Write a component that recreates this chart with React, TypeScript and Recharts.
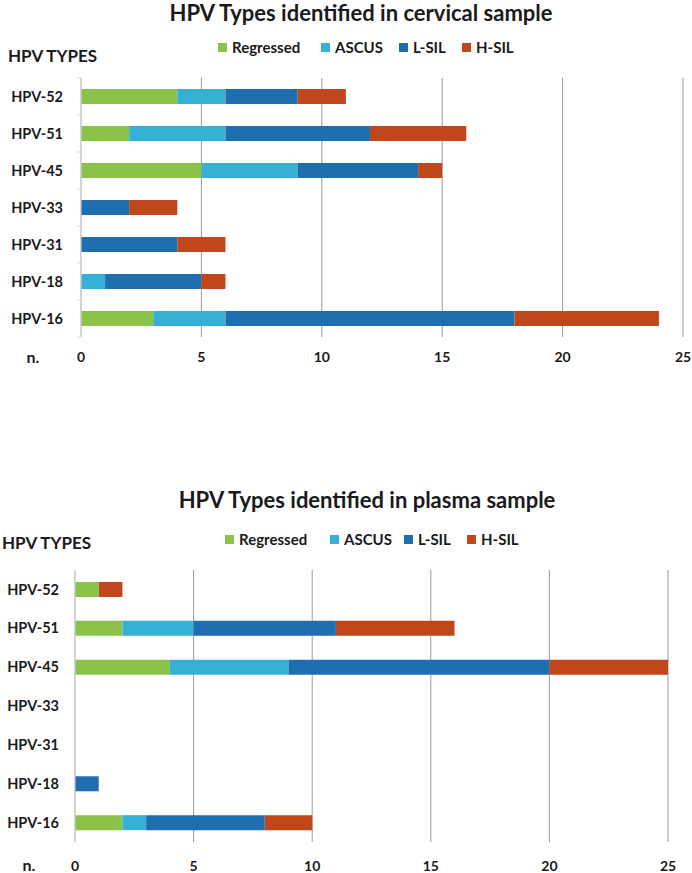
import { BarChart, Bar, XAxis, YAxis, CartesianGrid } from "recharts";

// categories (top to bottom)
const hpvTypes = ["HPV-52", "HPV-51", "HPV-45", "HPV-33", "HPV-31", "HPV-18", "HPV-16"];
const xTicks = [0, 5, 10, 15, 20, 25];

// cervical sample
const cervicalRegressed = [4, 2, 5, 0, 0, 0, 3];
const cervicalAscus = [2, 4, 4, 0, 0, 1, 3];
const cervicalLsil = [3, 6, 5, 2, 4, 4, 12];
const cervicalHsil = [2, 4, 1, 2, 2, 1, 6];

// plasma sample
const plasmaRegressed = [1, 2, 4, 0, 0, 0, 2];
const plasmaAscus = [0, 3, 5, 0, 0, 0, 1];
const plasmaLsil = [0, 6, 11, 0, 0, 1, 5];
const plasmaHsil = [1, 5, 5, 0, 0, 0, 2];

const seriesNames = ["Regressed", "ASCUS", "L-SIL", "H-SIL"];
const seriesColors = ["#8BC34A", "#37B0D6", "#1F6EB0", "#C0461B"];

const FONT = "Lato, 'Open Sans', sans-serif";
const TEXT = "#1a1a1a";

const buildRows = (cols: number[][]) =>
  hpvTypes.map((name, i) => {
    const row: any = { name };
    seriesNames.forEach((s, k) => (row[s] = cols[k][i]));
    return row;
  });

const cervicalData = buildRows([cervicalRegressed, cervicalAscus, cervicalLsil, cervicalHsil]);
const plasmaData = buildRows([plasmaRegressed, plasmaAscus, plasmaLsil, plasmaHsil]);

function Legend({ xs, top }: { xs: number[]; top: number }) {
  return (
    <>
      {seriesNames.map((s, i) => (
        <div
          key={s}
          style={{ position: "absolute", left: xs[i], top: top - 10, height: 20, display: "flex", alignItems: "center", fontFamily: FONT, fontWeight: 700, fontSize: 15, color: TEXT, whiteSpace: "nowrap" }}
        >
          <span style={{ width: 9, height: 9, background: seriesColors[i], marginRight: 5, display: "inline-block" }} />
          <span>{s}</span>
        </div>
      ))}
    </>
  );
}

// y tick with optional small tick marks at band edges (as in the cervical chart)
const makeTick = (band: number, marks: boolean, axisX: number) => (props: any) => {
  const { x, y, payload, index } = props;
  return (
    <g>
      <text x={x} y={y} dy="0.35em" textAnchor="end" fontFamily={FONT} fontWeight={700} fontSize={14.5} fill={TEXT}>
        {payload.value}
      </text>
      {marks && <line x1={axisX - 4} x2={axisX} y1={y + band / 2} y2={y + band / 2} stroke="#d9d9d9" />}
      {marks && index === 0 && <line x1={axisX - 4} x2={axisX} y1={y - band / 2} y2={y - band / 2} stroke="#d9d9d9" />}
    </g>
  );
};

type PanelProps = {
  top: number;
  height: number;
  data: any[];
  title: string;
  titleX: number;
  titleY: number;
  legendXs: number[];
  legendY: number;
  typesX: number;
  typesY: number;
  nX: number;
  nY: number;
  plotTop: number;
  plotBottom: number;
  plotLeft: number;
  plotRight: number;
  labelGap: number;
  tickGap: number;
  marks: boolean;
};

function Panel(p: PanelProps) {
  const axisH = p.height - p.plotBottom;
  const band = (p.plotBottom - p.plotTop) / hpvTypes.length;
  return (
    <div style={{ position: "absolute", left: 0, top: p.top, width: 692, height: p.height }}>
      <div style={{ position: "absolute", left: p.titleX, top: p.titleY, transform: "translate(-50%, -50%)", fontFamily: FONT, fontWeight: 700, fontSize: 22, lineHeight: "22px", color: TEXT, whiteSpace: "nowrap" }}>
        {p.title}
      </div>
      <Legend xs={p.legendXs} top={p.legendY} />
      <div style={{ position: "absolute", left: p.typesX, top: p.typesY - 11, fontFamily: FONT, fontWeight: 700, fontSize: 17, lineHeight: "22px", color: TEXT, whiteSpace: "nowrap" }}>
        HPV TYPES
      </div>
      <div style={{ position: "absolute", left: p.nX, top: p.nY, transform: "translate(-50%, -50%)", fontFamily: FONT, fontWeight: 700, fontSize: 16, lineHeight: "16px", color: TEXT }}>
        n.
      </div>
      <div style={{ position: "absolute", left: 0, top: 0 }}>
        <BarChart
          width={692}
          height={p.height}
          data={p.data}
          layout="vertical"
          margin={{ top: p.plotTop, right: 692 - p.plotRight, bottom: 0, left: 0 }}
        >
          <CartesianGrid horizontal={false} stroke="#9a9a9a" />
          <XAxis
            type="number"
            domain={[0, 25]}
            ticks={xTicks}
            height={axisH}
            axisLine={false}
            tickLine={false}
            tickSize={0}
            tickMargin={p.tickGap}
            tick={{ fontFamily: FONT, fontWeight: 700, fontSize: 14, fill: TEXT }}
          />
          <YAxis
            type="category"
            dataKey="name"
            width={p.plotLeft}
            axisLine={{ stroke: "#d9d9d9" }}
            tickLine={false}
            tickSize={0}
            tickMargin={p.labelGap}
            tick={makeTick(band, p.marks, p.plotLeft)}
          />
          {seriesNames.map((s, i) => (
            <Bar key={s} dataKey={s} stackId="a" fill={seriesColors[i]} barSize={15} isAnimationActive={false} />
          ))}
        </BarChart>
      </div>
    </div>
  );
}

export default function App() {
  return (
    <div style={{ position: "absolute", left: 0, top: 0, width: 692, height: 873, background: "#fff", overflow: "hidden" }}>
      <Panel
        top={0}
        height={380}
        data={cervicalData}
        title="HPV Types identified in cervical sample"
        titleX={361}
        titleY={13}
        legendXs={[218, 321, 399, 462]}
        legendY={47}
        typesX={8}
        typesY={56}
        nX={33}
        nY={357}
        plotTop={78}
        plotBottom={337}
        plotLeft={81}
        plotRight={683}
        labelGap={18}
        tickGap={15}
        marks={true}
      />
      <Panel
        top={440}
        height={433}
        data={plasmaData}
        title="HPV Types identified in plasma sample"
        titleX={367}
        titleY={60}
        legendXs={[225, 330, 404, 467]}
        legendY={99}
        typesX={2}
        typesY={103}
        nX={29}
        nY={425}
        plotTop={130}
        plotBottom={402}
        plotLeft={75}
        plotRight={668}
        labelGap={16}
        tickGap={19}
        marks={false}
      />
    </div>
  );
}
